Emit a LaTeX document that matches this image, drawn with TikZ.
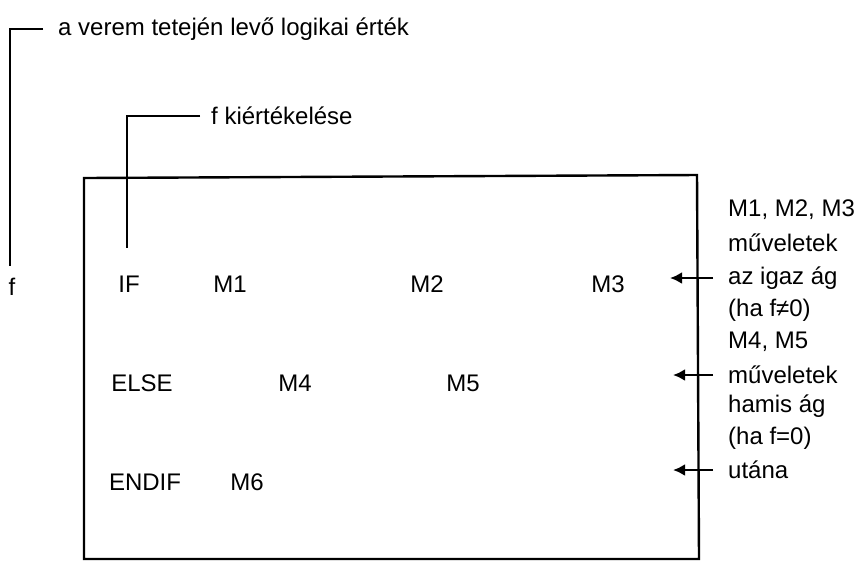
\documentclass[tikz,border=0pt]{standalone}
\usepackage{fontspec}
\setmainfont{Liberation Sans}
\usetikzlibrary{arrows.meta,positioning}

\begin{document}
\begin{tikzpicture}[x=0.5pt, y=-0.5pt, line width=1.2pt,
    lbl/.style={font=\fontsize{12}{14}\selectfont},
    note/.style={lbl, anchor=west, inner sep=0pt},
    arr/.style={-{Latex[length=6pt,width=6pt]}, shorten <=7pt}]
    \useasboundingbox (0,0) rectangle (860,564);

    % Stack top value
    \node[note] (stack) at (57,29) {a verem tetején levő logikai érték};
    \node[lbl] (f) at (12,287) {f};
    \draw[shorten <=7pt, shorten >=2pt] (stack.west) -| ([xshift=-1pt]f.north);

    % Program frame
    \draw (84,178) -- (697,175) -- (699,559) -- (84,559) -- cycle;

    % Condition evaluation
    \node[note] (eval) at (210,116) {f kiértékelése};

    % IF branch
    \node[lbl] (if) at (129,284) {IF};
    \node[lbl] (m1) at (230,284) {M1};
    \node[lbl] (m2) at (427,284) {M2};
    \node[lbl] (m3) at (608,284) {M3};
    \draw[shorten <=5pt, shorten >=10pt] (eval.west) -| ([xshift=-1pt]if.north);

    % ELSE branch
    \node[lbl] (else) at (142,383) {ELSE};
    \node[lbl] (m4) at (295,383) {M4};
    \node[lbl] (m5) at (463,383) {M5};

    % After ENDIF
    \node[lbl] (endif) at (145,482) {ENDIF};
    \node[lbl] (m6) at (247,482) {M6};

    % Notes on the right
    \node[note] (n1) at (727,210) {M1, M2, M3};
    \node[note] (n2) at (727,243) {műveletek};
    \node[note] (n3) at (727,278) {az igaz ág};
    \node[note] (n4) at (727,310) {(ha f≠0)};
    \node[note] (n5) at (727,342) {M4, M5};
    \node[note] (n6) at (727,375) {műveletek};
    \node[note] (n7) at (727,406) {hamis ág};
    \node[note] (n8) at (727,438) {(ha f=0)};
    \node[note] (n9) at (727,470) {utána};

    % Arrows into the frame
    \coordinate (t1) at (670,278);
    \coordinate (t2) at (673,375);
    \coordinate (t3) at (673,470);
    \draw[arr] (n3.west) -- (t1);
    \draw[arr] (n6.west) -- (t2);
    \draw[arr] (n9.west) -- (t3);
\end{tikzpicture}
\end{document}
